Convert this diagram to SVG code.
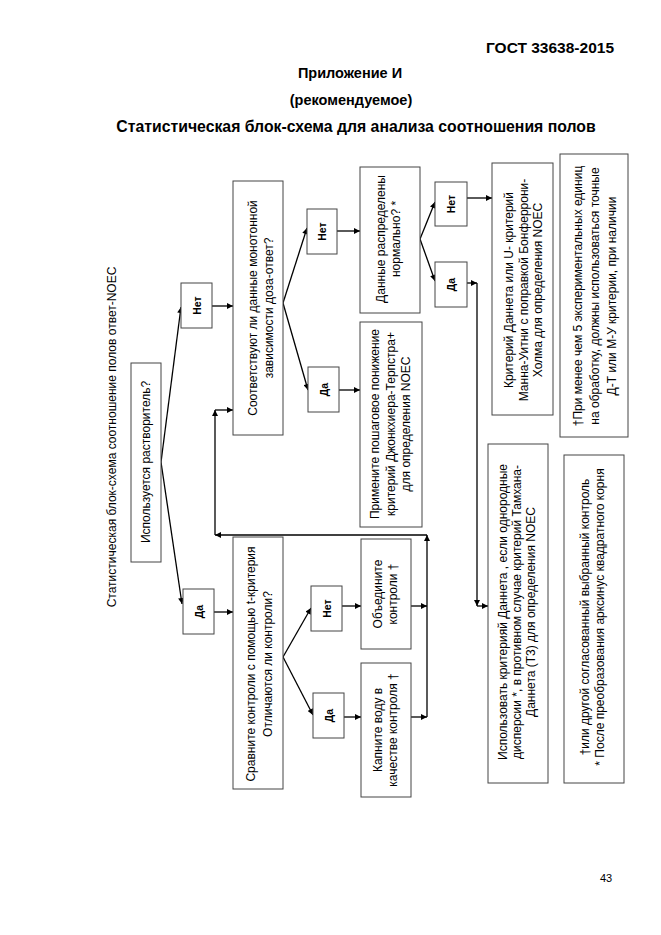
<svg xmlns="http://www.w3.org/2000/svg" width="661" height="935" viewBox="0 0 661 935">
<defs>
<marker id="ah" viewBox="0 0 10 10" refX="10" refY="5" markerWidth="7" markerHeight="6" markerUnits="userSpaceOnUse" orient="auto">
<path d="M0,0 L10,5 L0,10 z" fill="#000"/>
</marker>
<style>
.hd{font-family:"Liberation Sans",Arial,sans-serif;font-weight:bold;fill:#000}
.t{font-family:"Liberation Sans",Arial,sans-serif;font-size:12px;fill:#000;text-anchor:middle;dominant-baseline:central}
.b{font-family:"Liberation Sans",Arial,sans-serif;font-size:10.5px;font-weight:bold;fill:#000;text-anchor:middle;dominant-baseline:central}
.box{fill:#fff;stroke:#444;stroke-width:1}
.c{fill:none;stroke:#000;stroke-width:1.3;marker-end:url(#ah)}
.l{fill:none;stroke:#000;stroke-width:1.3}
</style>
</defs>
<rect width="661" height="935" fill="#fff"/>
<g id="header">
<text class="hd" x="614" y="53" font-size="15.5" text-anchor="end">ГОСТ 33638-2015</text>
<text class="hd" x="350" y="78" font-size="14.5" text-anchor="middle">Приложение И</text>
<text class="hd" x="351" y="105" font-size="14.5" text-anchor="middle">(рекомендуемое)</text>
<text class="hd" x="356" y="132" font-size="15.8" text-anchor="middle">Статистическая блок-схема для анализа соотношения полов</text>
</g>
<g id="caption">
<text class="t" transform="translate(112,437) rotate(-90)">Статистическая блок-схема соотношение полов ответ-NOEC</text>
</g>
<g id="connectors">
<path class="c" d="M161,462 L181,307"/>
<path class="c" d="M161,462 L182,604"/>
<path class="c" d="M212,306 H233"/>
<path class="c" d="M214,612 H233"/>
<path class="c" d="M283,303 L307,228"/>
<path class="c" d="M283,303 L308,390"/>
<path class="c" d="M337,231 H360"/>
<path class="c" d="M339,390 H360"/>
<path class="c" d="M420,239 L435,202"/>
<path class="c" d="M420,239 L435,281"/>
<path class="c" d="M467,198 H492"/>
<path class="c" d="M467,283 H477"/>
<path class="c" d="M477,283 V606"/>
<path class="c" d="M477,606 H488"/>
<path class="c" d="M283,657 L311,608"/>
<path class="c" d="M283,657 L313,715"/>
<path class="c" d="M342,606 H361"/>
<path class="c" d="M344,717 H361"/>
<path class="c" d="M411,606 H427"/>
<path class="c" d="M411,717 H427"/>
<path class="c" d="M427,717 V535"/>
<path class="c" d="M427,535 H215"/>
<path class="c" d="M215,535 V410"/>
<path class="c" d="M215,410 H233"/>
</g>
<g id="n-solvent">
<rect class="box" x="131" y="363" width="30" height="199"/>
<text class="t" transform="translate(146,462) rotate(-90)">Используется растворитель?</text>
</g>
<g id="n-no1">
<rect class="box" x="181" y="283" width="31" height="45"/>
<text class="b" transform="translate(196.5,305.5) rotate(-90)">Нет</text>
</g>
<g id="n-yes1">
<rect class="box" x="183" y="589" width="31" height="45"/>
<text class="b" transform="translate(198.5,611.5) rotate(-90)">Да</text>
</g>
<g id="n-monotone">
<rect class="box" x="233" y="181" width="50" height="254"/>
<text class="t" transform="translate(253,308) rotate(-90)"><tspan x="0" y="0">Соответствуют ли данные монотонной</tspan><tspan x="0" y="16">зависимости доза-ответ?</tspan></text>
</g>
<g id="n-no2">
<rect class="box" x="307" y="209" width="30" height="45"/>
<text class="b" transform="translate(322,231.5) rotate(-90)">Нет</text>
</g>
<g id="n-yes2">
<rect class="box" x="308" y="367" width="31" height="45"/>
<text class="b" transform="translate(323.5,389.5) rotate(-90)">Да</text>
</g>
<g id="n-normal">
<rect class="box" x="360" y="167" width="60" height="146"/>
<text class="t" transform="translate(381,239) rotate(-90)"><tspan x="0" y="0">Данные распределены</tspan><tspan x="0" y="15">нормально? *</tspan></text>
</g>
<g id="n-jonckheere">
<rect class="box" x="360" y="322" width="62" height="205"/>
<text class="t" transform="translate(375,424) rotate(-90)"><tspan x="0" y="0">Примените пошаговое понижение</tspan><tspan x="0" y="15.5">критерий Джонкхиера-Терпстра+</tspan><tspan x="0" y="31">для определения NOEC</tspan></text>
</g>
<g id="n-no3">
<rect class="box" x="435" y="182" width="32" height="44"/>
<text class="b" transform="translate(451,204) rotate(-90)">Нет</text>
</g>
<g id="n-yes3">
<rect class="box" x="435" y="262" width="32" height="45"/>
<text class="b" transform="translate(451,284.5) rotate(-90)">Да</text>
</g>
<g id="n-dunnett-u">
<rect class="box" x="492" y="163" width="61" height="252"/>
<text class="t" transform="translate(509,290) rotate(-90)"><tspan x="0" y="0">Критерий Даннета или U- критерий</tspan><tspan x="0" y="14.5">Манна-Уитни с поправкой Бонферрони-</tspan><tspan x="0" y="29">Холма для определения NOEC</tspan></text>
</g>
<g id="n-note1">
<rect class="box" x="560" y="154" width="68" height="283"/>
<text class="t" transform="translate(578,296) rotate(-90)"><tspan x="0" y="0">†При менее чем 5 экспериментальных единиц</tspan><tspan x="0" y="17">на обработку, должны использоваться точные</tspan><tspan x="0" y="34">Д-Т или М-У критерии, при наличии</tspan></text>
</g>
<g id="n-compare">
<rect class="box" x="233" y="537" width="50" height="252"/>
<text class="t" transform="translate(251,664) rotate(-90)"><tspan x="0" y="0">Сравните контроли с помощью t-критерия</tspan><tspan x="0" y="17">Отличаются ли контроли?</tspan></text>
</g>
<g id="n-no4">
<rect class="box" x="311" y="586" width="31" height="45"/>
<text class="b" transform="translate(326.5,608.5) rotate(-90)">Нет</text>
</g>
<g id="n-yes4">
<rect class="box" x="313" y="693" width="31" height="45"/>
<text class="b" transform="translate(328.5,715.5) rotate(-90)">Да</text>
</g>
<g id="n-pool">
<rect class="box" x="361" y="539" width="50" height="110"/>
<text class="t" transform="translate(378,594) rotate(-90)"><tspan x="0" y="0">Объедините</tspan><tspan x="0" y="15">контроли †</tspan></text>
</g>
<g id="n-water">
<rect class="box" x="361" y="663" width="50" height="134"/>
<text class="t" transform="translate(378,730) rotate(-90)"><tspan x="0" y="0">Капните воду в</tspan><tspan x="0" y="15">качестве контроля †</tspan></text>
</g>
<g id="n-dunnett-t3">
<rect class="box" x="488" y="444" width="60" height="339"/>
<text class="t" transform="translate(503,612) rotate(-90)"><tspan x="0" y="0">Использовать критерияй Даннета , если однородные</tspan><tspan x="0" y="14">дисперсии *, в противном случае критерий Тамхана-</tspan><tspan x="0" y="28">Даннета (Т3) для определения NOEC</tspan></text>
</g>
<g id="n-note2">
<rect class="box" x="564" y="455" width="60" height="328"/>
<text class="t" transform="translate(585,617) rotate(-90)"><tspan x="0" y="0">†или другой согласованный выбранный контроль</tspan><tspan x="0" y="15">* После преобразования арксинус квадратного корня</tspan></text>
</g>
<g id="page-number">
<text x="606" y="882" font-family="Liberation Sans, Arial, sans-serif" font-size="11" text-anchor="middle">43</text>
</g>
</svg>
